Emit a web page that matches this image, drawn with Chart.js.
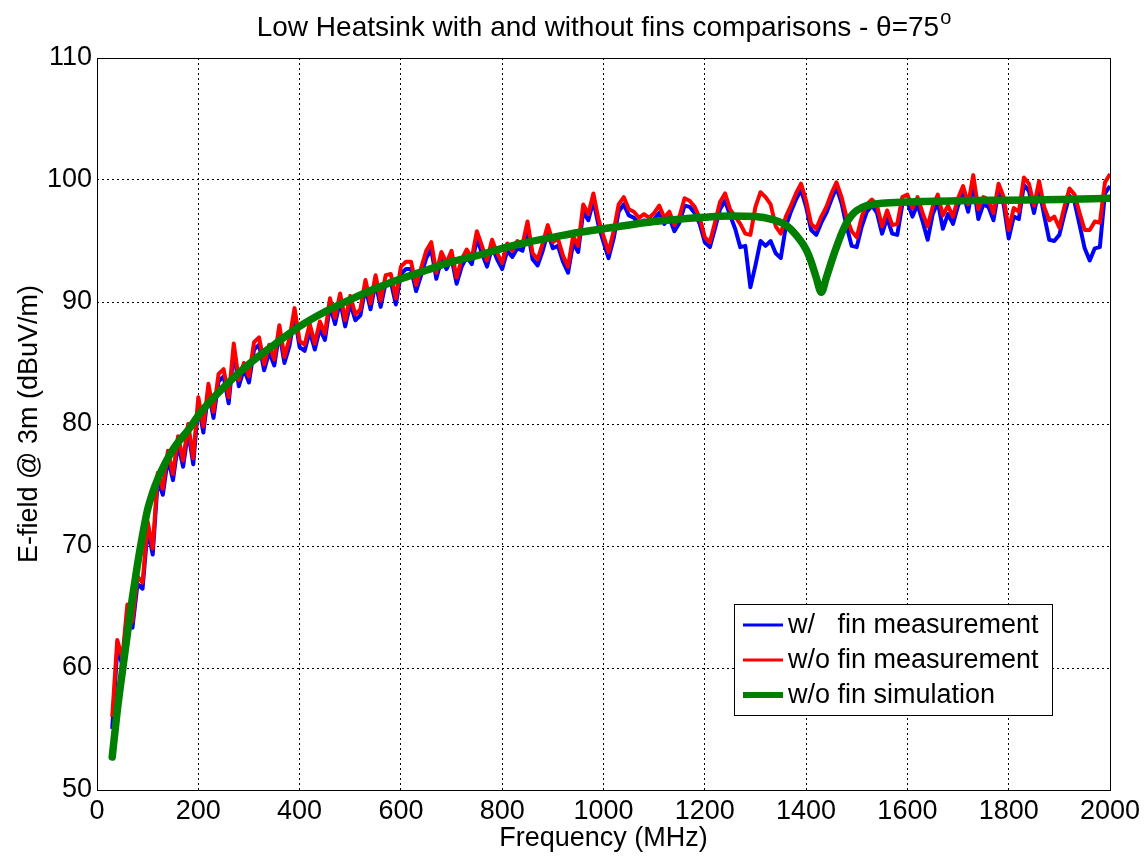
<!DOCTYPE html>
<html>
<head>
<meta charset="utf-8">
<title>Low Heatsink E-field</title>
<script src="https://cdn.jsdelivr.net/npm/chart.js@4.4.0/dist/chart.umd.min.js"></script>
<style>
  html, body { margin: 0; padding: 0; background: #ffffff; }
  #wrap { width: 1148px; height: 856px; }
</style>
</head>
<body>
<div id="wrap"><canvas id="efieldChart" width="1148" height="856"></canvas></div>
<script>
// measurement sweep: 30 MHz to 2000 MHz in 10 MHz steps
var freqStart = 30;
var freqStep = 10;

// w/ fin measurement (dBuV/m)
var withFin = [
    55.0, 61.5, 60.3, 64.7, 63.3, 66.9, 66.5, 71.4, 69.3, 75.4,
    74.2, 77.2, 75.4, 78.4, 76.5, 79.4, 76.7, 81.6, 79.3, 82.7,
    80.5, 83.5, 83.9, 81.7, 86.0, 83.1, 84.5, 83.4, 86.1, 86.5,
    84.4, 85.9, 84.8, 87.5, 85.0, 86.4, 88.9, 86.3, 86.0, 87.6,
    86.1, 87.8, 86.9, 89.7, 88.2, 90.1, 88.0, 89.9, 88.5, 88.9,
    91.2, 89.4, 91.6, 89.6, 91.6, 91.7, 89.8, 92.3, 92.7, 92.7,
    90.9, 92.2, 93.6, 94.3, 91.9, 93.5, 92.7, 93.6, 91.5, 92.9,
    93.7, 93.1, 95.2, 94.0, 92.9, 94.5, 93.5, 92.7, 94.2, 93.7,
    94.4, 94.2, 96.0, 93.5, 93.0, 94.2, 95.7, 94.4, 94.6, 93.3,
    92.4, 94.8, 94.1, 97.4, 96.7, 98.3, 96.3, 94.9, 93.6, 95.2,
    97.4, 98.0, 97.1, 96.9, 96.4, 96.7, 96.4, 96.8, 97.3, 96.4,
    96.9, 95.8, 96.5, 97.9, 97.8, 97.3, 96.4, 94.9, 94.5, 96.0,
    97.6, 98.3, 97.1, 96.0, 94.5, 94.6, 91.2, 93.0, 95.0, 94.6,
    95.0, 94.0, 93.6, 96.2, 97.4, 98.4, 99.2, 97.8, 95.9, 95.5,
    96.5, 97.3, 98.4, 99.4, 98.1, 96.2, 94.6, 94.5, 96.2, 97.4,
    97.9, 97.3, 95.6, 96.9, 95.6, 95.5, 98.0, 98.2, 97.0, 98.0,
    96.6, 95.1, 97.2, 98.2, 96.0, 97.2, 96.4, 97.9, 98.9, 97.4,
    99.8, 96.8, 98.0, 97.8, 96.7, 99.1, 98.0, 95.2, 97.0, 96.8,
    99.6, 99.1, 97.3, 99.3, 97.1, 95.1, 95.0, 95.5, 97.2, 98.7,
    98.2, 96.3, 94.4, 93.4, 94.4, 94.5, 98.9, 99.5
];

// w/o fin measurement (dBuV/m)
var withoutFin = [
    56.0, 62.3, 60.8, 65.2, 63.8, 67.5, 67.0, 72.0, 69.8, 76.0,
    74.7, 77.8, 75.9, 79.0, 77.0, 80.0, 77.2, 82.2, 79.8, 83.3,
    81.0, 84.1, 84.5, 82.2, 86.6, 83.6, 85.0, 83.9, 86.7, 87.1,
    84.9, 86.5, 85.3, 88.1, 85.5, 87.0, 89.5, 86.8, 86.5, 88.2,
    86.6, 88.4, 87.4, 90.3, 88.7, 90.7, 88.5, 90.5, 89.0, 89.4,
    91.8, 89.9, 92.2, 90.1, 92.2, 92.3, 90.3, 92.9, 93.3, 93.3,
    91.4, 92.8, 94.2, 94.9, 92.4, 94.1, 93.2, 94.2, 92.0, 93.5,
    94.3, 93.6, 95.8, 94.6, 93.4, 95.1, 94.0, 93.2, 94.8, 94.2,
    95.0, 94.7, 96.6, 94.0, 93.5, 94.8, 96.3, 94.9, 95.2, 93.8,
    92.9, 95.4, 94.6, 98.0, 97.2, 98.9, 96.8, 95.4, 94.1, 95.8,
    98.0, 98.6, 97.6, 97.4, 96.9, 97.2, 96.9, 97.3, 97.9, 96.9,
    97.4, 96.3, 97.0, 98.5, 98.3, 97.8, 96.9, 95.3, 94.9, 96.5,
    98.2, 98.9, 97.6, 97.0, 96.4, 95.6, 95.5, 97.8, 99.0, 98.6,
    98.0, 96.2, 95.6, 97.0, 97.9, 98.9, 99.7, 98.3, 96.4, 96.0,
    97.0, 97.8, 98.9, 99.8, 98.6, 96.9, 95.8, 95.3, 97.0, 98.0,
    98.4, 97.9, 96.2, 97.5, 96.3, 96.4, 98.6, 98.8, 97.7, 98.6,
    97.3, 96.2, 97.8, 98.8, 97.1, 97.9, 97.0, 98.5, 99.5, 98.0,
    100.4, 97.6, 98.6, 98.4, 97.3, 99.7, 98.6, 95.9, 97.7, 97.4,
    100.2, 99.7, 97.9, 99.9, 97.8, 96.7, 97.0, 96.1, 97.8, 99.3,
    98.8, 97.3, 95.9, 95.9, 96.6, 96.5, 99.8, 100.5
];

// w/o fin simulation
var simFreq = [
    30, 40, 50, 60, 70, 80, 90, 100, 110, 120, 130, 140, 150, 160, 170, 180, 190, 200,
    220, 250, 300, 350, 400, 450, 500, 550, 600, 650, 700, 750, 800, 850, 900, 950,
    1000, 1100, 1200, 1250, 1300, 1330, 1360, 1380, 1400, 1410, 1420, 1430, 1440,
    1450, 1460, 1470, 1480, 1490, 1500, 1520, 1550, 1600, 1700, 1800, 1900, 2000
];
var simWithoutFin = [
    52.7, 56.5, 59.7, 62.8, 65.8, 68.5, 70.9, 73.0, 74.4, 75.5, 76.4, 77.2, 77.9, 78.5, 79.0, 79.5, 80.1, 80.7,
    81.7, 83.0, 84.9, 86.5, 88.0, 89.2, 90.2, 91.1, 91.9, 92.6, 93.3, 93.8, 94.4, 94.9, 95.3, 95.7,
    96.0, 96.6, 96.95, 97.05, 97.0, 96.8, 96.3, 95.5, 94.3, 93.3, 92.0, 90.8, 92.0,
    93.3, 94.5, 95.6, 96.5, 97.1, 97.5, 97.9, 98.1, 98.2, 98.3, 98.35, 98.4, 98.5
];

var xTicks = [0, 200, 400, 600, 800, 1000, 1200, 1400, 1600, 1800, 2000];
var yTicks = [50, 60, 70, 80, 90, 100, 110];

var seriesNames = ["w/   fin measurement", "w/o fin measurement", "w/o fin simulation"];
var seriesColors = ["#0000ff", "#ff0000", "#007f00"];

var measFreq = withFin.map(function (v, i) { return freqStart + i * freqStep; });

function toPoints(xs, ys) {
    return ys.map(function (y, i) { return { x: xs[i], y: y }; });
}

function plainLabel(value) {
    return String(value);
}

var fontFamily = "'Liberation Sans', Arial, Helvetica, sans-serif";

// frame box, title and legend in the MATLAB figure style
var figureDecor = {
    id: "figureDecor",
    afterDraw: function (chart) {
        var ctx = chart.ctx;
        var a = chart.chartArea;
        ctx.save();

        ctx.strokeStyle = "#000";
        ctx.lineWidth = 1;
        ctx.strokeRect(Math.round(a.left) + 0.5, Math.round(a.top) + 0.5,
            Math.round(a.right - a.left), Math.round(a.bottom - a.top));

        // title with superscript degree mark
        var main = "Low Heatsink with and without fins comparisons - \u03b8=75";
        ctx.fillStyle = "#000";
        ctx.textBaseline = "middle";
        ctx.textAlign = "left";
        ctx.font = "28px " + fontFamily;
        var wMain = ctx.measureText(main).width;
        ctx.font = "20px " + fontFamily;
        var wSup = ctx.measureText("o").width;
        var cx = (a.left + a.right) / 2;
        var x0 = cx - (wMain + wSup) / 2;
        ctx.font = "28px " + fontFamily;
        ctx.fillText(main, x0, 28);
        ctx.font = "20px " + fontFamily;
        ctx.fillText("o", x0 + wMain + 1, 18);

        // legend
        var lx = 734, ly = 604, lw = 318, lh = 111;
        ctx.fillStyle = "#fff";
        ctx.fillRect(lx, ly, lw, lh);
        ctx.strokeStyle = "#000";
        ctx.lineWidth = 1;
        ctx.strokeRect(lx + 0.5, ly + 0.5, lw, lh);
        var rows = [625, 660, 695];
        var widths = [3, 3, 6];
        ctx.font = "27px " + fontFamily;
        for (var i = 0; i < 3; i++) {
            ctx.strokeStyle = seriesColors[i];
            ctx.lineWidth = widths[i];
            ctx.beginPath();
            ctx.moveTo(743, rows[i]);
            ctx.lineTo(783, rows[i]);
            ctx.stroke();
            ctx.fillStyle = "#000";
            ctx.fillText(seriesNames[i], 788, rows[i] + 1);
        }
        ctx.restore();
    }
};

var canvasElement = document.getElementById("efieldChart");

var config = {
    type: "line",
    data: {
        datasets: [
            {
                label: seriesNames[2],
                data: toPoints(simFreq, simWithoutFin),
                borderColor: seriesColors[2],
                borderWidth: 7.5,
                cubicInterpolationMode: "monotone",
                borderCapStyle: "round",
                borderJoinStyle: "round",
                pointRadius: 0,
                order: 1
            },
            {
                label: seriesNames[1],
                data: toPoints(measFreq, withoutFin),
                borderColor: seriesColors[1],
                borderWidth: 4,
                tension: 0,
                borderJoinStyle: "round",
                pointRadius: 0,
                order: 2
            },
            {
                label: seriesNames[0],
                data: toPoints(measFreq, withFin),
                borderColor: seriesColors[0],
                borderWidth: 4,
                tension: 0,
                borderJoinStyle: "round",
                pointRadius: 0,
                order: 3
            }
        ]
    },
    options: {
        responsive: false,
        animation: false,
        devicePixelRatio: 1,
        layout: {
            padding: { left: 0, right: 38, top: 58, bottom: 0 }
        },
        plugins: {
            legend: { display: false },
            tooltip: { enabled: false },
            title: { display: false }
        },
        scales: {
            x: {
                type: "linear",
                min: 0,
                max: 2000,
                afterBuildTicks: function (scale) {
                    scale.ticks = xTicks.map(function (v) { return { value: v }; });
                },
                afterFit: function (scale) { scale.height = 66; },
                grid: { color: "#000", lineWidth: 1, drawTicks: false },
                border: { display: false, dash: [2, 3] },
                ticks: {
                    color: "#000",
                    padding: 5,
                    maxRotation: 0,
                    callback: plainLabel,
                    font: { size: 27, family: fontFamily }
                },
                title: {
                    display: true,
                    text: "Frequency (MHz)",
                    color: "#000",
                    padding: { top: 0, bottom: 1 },
                    font: { size: 27, family: fontFamily }
                }
            },
            y: {
                type: "linear",
                min: 50,
                max: 110,
                afterBuildTicks: function (scale) {
                    scale.ticks = yTicks.map(function (v) { return { value: v }; });
                },
                afterFit: function (scale) { scale.width = 97; },
                grid: { color: "#000", lineWidth: 1, drawTicks: false },
                border: { display: false, dash: [2, 3] },
                ticks: {
                    color: "#000",
                    padding: 5,
                    callback: plainLabel,
                    font: { size: 27, family: fontFamily }
                },
                title: {
                    display: true,
                    text: "E-field @ 3m (dBuV/m)",
                    color: "#000",
                    padding: { top: 13, bottom: 0 },
                    font: { size: 27, family: fontFamily }
                }
            }
        }
    },
    plugins: [figureDecor]
};

var efieldChart = new Chart(canvasElement, config);
</script>
</body>
</html>
